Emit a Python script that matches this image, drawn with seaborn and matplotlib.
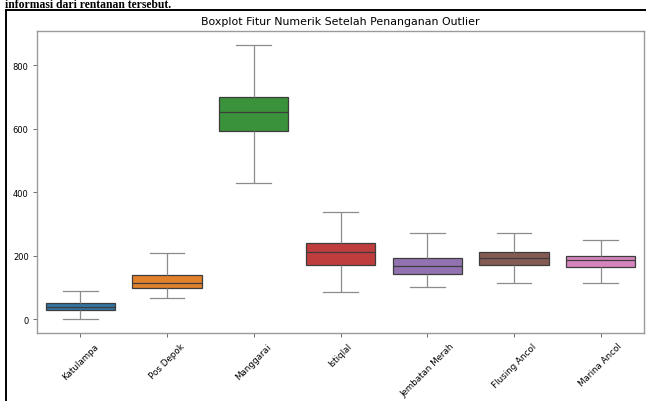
import numpy as np
import pandas as pd
import matplotlib
matplotlib.use("Agg")
import matplotlib.pyplot as plt
import seaborn as sns
from matplotlib.patches import Rectangle

# Five-number summary per station (after outlier handling)
stations = ["Katulampa", "Pos Depok", "Manggarai", "Istiqlal",
            "Jembatan Merah", "Flusing Ancol", "Marina Ancol"]
lower = [0, 67, 428, 87, 102, 115, 113]
q1 = [28, 99, 594, 172, 143, 171, 165]
median = [40, 114, 652, 213, 167, 193, 188]
q3 = [52, 141, 700, 241, 194, 213, 200]
upper = [88, 209, 865, 337, 272, 272, 251]

rows = []
for i, name in enumerate(stations):
    for v in (lower[i], q1[i], median[i], q3[i], upper[i]):
        rows.append({"Stasiun": name, "Nilai": v})
df = pd.DataFrame(rows)

W, H = 646, 402
fig = plt.figure(figsize=(W / 100, H / 100), dpi=100)

def fx(px):
    return px / W

def fy(py):
    return 1 - py / H

ax = fig.add_axes([fx(37), fy(334), fx(644) - fx(37), fy(32) - fy(334)])

whisk = dict(color="#8c8c8c", linewidth=0.9)
sns.boxplot(data=df, x="Stasiun", y="Nilai", hue="Stasiun", legend=False,
            whis=(0, 100), width=0.8, linewidth=0.9, ax=ax,
            whiskerprops=whisk, capprops=whisk)

ax.set_xlabel("")
ax.set_ylabel("")
ax.set_title("Boxplot Fitur Numerik Setelah Penanganan Outlier", fontsize=7.9, pad=5)
ax.set_yticks([0, 200, 400, 600, 800])
ax.tick_params(axis="y", labelsize=6, length=3, width=0.6, color="#555555", pad=3)
ax.tick_params(axis="x", labelsize=6.3, length=3, width=0.6, color="#555555", pad=3)
plt.setp(ax.get_xticklabels(), rotation=45, ha="center")
for sp in ax.spines.values():
    sp.set_color("#9a9a9a")
    sp.set_linewidth(1.0)

# Surrounding frame and the preceding document line
fig.patches.append(Rectangle((fx(5.5), fy(700)), fx(700) - fx(5.5), fy(10.5) - fy(700),
                             transform=fig.transFigure, fill=False,
                             edgecolor="black", linewidth=1.4, clip_on=False))
fig.text(fx(5), fy(8.5), "informasi dari rentanan tersebut.",
         family="Liberation Serif", weight="bold", fontsize=8.4, va="baseline", ha="left")

fig.savefig("out.png", dpi=100)
